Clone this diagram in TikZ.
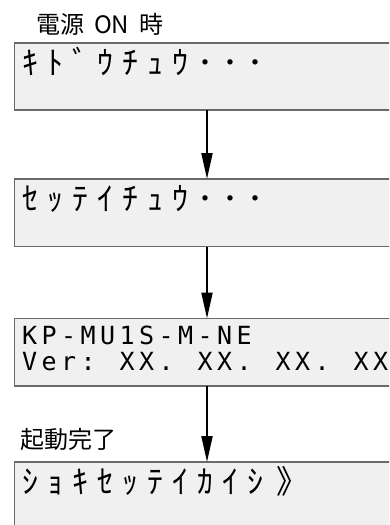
\documentclass[tikz,border=0pt]{standalone}
\usepackage{fontspec}
\usepackage{xcolor}
\usetikzlibrary{arrows.meta}

\newfontfamily\jpfont{Noto Sans CJK JP}
\newfontfamily\lcdfont{DejaVu Sans Mono}

\definecolor{panelfill}{HTML}{F0F0F0}
\definecolor{panelline}{HTML}{6A6A6A}

% Fixed-pitch LCD row: one cell per character.
\newlength\lcdpitch
\def\lcdstop{lcdstop}
\newcommand\lcdrow[2]{\setlength\lcdpitch{#1}\lcdnext#2\lcdstop}
\def\lcdnext#1{\ifx\lcdstop#1\else\makebox[\lcdpitch][l]{#1}\expandafter\lcdnext\fi}

\begin{document}
\begin{tikzpicture}[
    x=1pt,
    y=-1pt,
    panel/.style={draw=panelline,fill=panelfill,line width=1.6pt,minimum width=385pt,
        minimum height=67.5pt,inner sep=0pt,outer sep=0pt,anchor=north west},
    kana/.style={font=\jpfont\fontsize{32}{36}\selectfont,anchor=base west,inner sep=0pt},
    lcd/.style={font=\lcdfont\fontsize{25}{28}\selectfont,anchor=base west,inner sep=0pt},
    caption/.style={font=\jpfont\fontsize{24}{28}\selectfont,anchor=base west,inner sep=0pt},
    flow/.style={-{Triangle[length=26pt,width=11pt]},line width=2pt}
]
\useasboundingbox (0,0) rectangle (389,525);
\clip (0,0) rectangle (389,525);

% Captions.
\node[caption] (poweron) at (36,33) {電源\hspace{10pt}ON\hspace{10pt}時};
\node[caption] (ready) at (20,448) {起動完了};

% Display panels.
\node[panel] (boot) at (14.5,42.7) {};
\node[panel] (setup) at (14.5,179) {};
\node[panel] (model) at (14.5,318.5) {};
\node[panel] (init) at (14.5,462) {};

% Panel texts.
\node[kana] (bootmsg) at (22,74) {\lcdrow{25pt}{ｷﾄﾞｳﾁｭｳ･･･}};
\node[kana] (setupmsg) at (22,210) {\lcdrow{25pt}{ｾｯﾃｲﾁｭｳ･･･}};
\node[lcd] (modelname) at (22,344) {\lcdrow{19.5pt}{KP-MU1S-M-NE}};
\node[lcd] (version) at (22,370) {\lcdrow{19.5pt}{Ver:~XX.~XX.~XX.~XX}};
\node[kana] (initmsg) at (22,493) {\lcdrow{25pt}{ｼｮｷｾｯﾃｲｶｲｼ}\hspace{4pt}》};

% Start-up sequence.
\draw[flow] (boot) -- (setup);
\draw[flow] (setup) -- (model);
\draw[flow] (model) -- (init);

\end{tikzpicture}
\end{document}
